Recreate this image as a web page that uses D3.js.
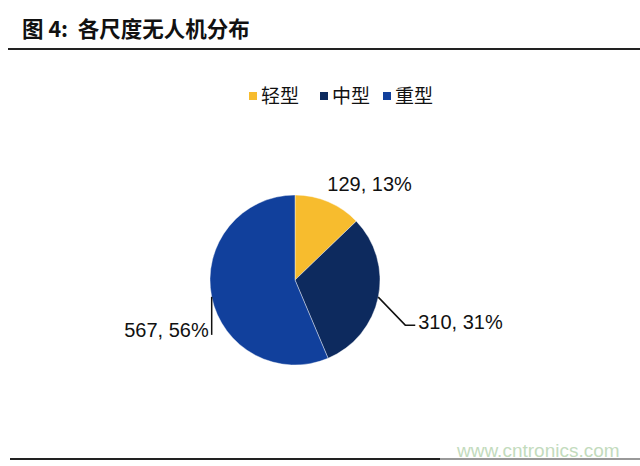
<!DOCTYPE html>
<html><head><meta charset="utf-8">
<script src="https://cdn.jsdelivr.net/npm/d3@7"></script>
<style>body{margin:0;background:#fff}svg{display:block}</style>
</head><body>
<script>
const categories = ["轻型", "中型", "重型"];
const values = [129, 310, 567];
const percents = ["13%", "31%", "56%"];
const colors = ["#F7BC2E", "#0D2A5E", "#11409C"];
const title = "图 4:  各尺度无人机分布";
const watermark = "www.cntronics.com";

const W = 640, H = 466;
const svg = d3.select("body").append("svg").attr("width", W).attr("height", H);

// title
svg.append("text").attr("x", 22).attr("y", 37)
  .attr("font-family", "'Noto Sans CJK SC', sans-serif").attr("font-weight", 700)
  .attr("font-size", 21.5).attr("fill", "#111").attr("xml:space", "preserve").text(title);
svg.append("line").attr("x1", 8).attr("x2", W).attr("y1", 49).attr("y2", 49)
  .attr("stroke", "#222").attr("stroke-width", 2);

// legend
const legX = [249, 320, 383];
const leg = svg.append("g");
categories.forEach((c, i) => {
  leg.append("rect").attr("x", legX[i]).attr("y", 92).attr("width", 8).attr("height", 8).attr("fill", colors[i]);
  leg.append("text").attr("x", legX[i] + 12).attr("y", 103)
    .attr("font-family", "'Noto Sans CJK SC', sans-serif").attr("font-size", 19).attr("fill", "#111").text(c);
});

// pie
const cx = 295, cy = 280, R = 85;
const pie = d3.pie().sort(null).value(d => d)(values);
const arc = d3.arc().innerRadius(0).outerRadius(R);
const g = svg.append("g").attr("transform", `translate(${cx},${cy})`);
g.selectAll("path").data(pie).join("path").attr("d", arc).attr("fill", (d, i) => colors[i])
  .attr("stroke", "#fff").attr("stroke-width", 0.4);

// labels
const font = "'Liberation Sans', Arial, sans-serif";
pie.forEach((d, i) => {
  const a = (d.startAngle + d.endAngle) / 2;
  const px = R * Math.sin(a), py = -R * Math.cos(a);
  const txt = `${values[i]}, ${percents[i]}`;
  const t = g.append("text").attr("font-family", font).attr("font-size", 20).attr("fill", "#111").text(txt);
  if (i === 0) {
    t.attr("x", px - 1).attr("y", py - 11).attr("text-anchor", "start");
  } else if (i === 1) {
    g.append("polyline").attr("points", `${px},${py} ${px + 27},${py + 28} ${px + 37},${py + 28}`)
      .attr("fill", "none").attr("stroke", "#111").attr("stroke-width", 1.5);
    t.attr("x", px + 40).attr("y", py + 32).attr("text-anchor", "start");
  } else {
    g.append("line").attr("x1", px).attr("y1", py).attr("x2", px).attr("y2", py + 38)
      .attr("stroke", "#111").attr("stroke-width", 1.5);
    t.attr("x", px - 3).attr("y", py + 40).attr("text-anchor", "end");
  }
});

// bottom line + watermark
svg.append("line").attr("x1", 10).attr("x2", 440).attr("y1", 459).attr("y2", 459).attr("stroke", "#222").attr("stroke-width", 2);
svg.append("line").attr("x1", 440).attr("x2", W).attr("y1", 459).attr("y2", 459).attr("stroke", "#999").attr("stroke-width", 2);
svg.append("text").attr("x", 457).attr("y", 457).attr("font-family", font).attr("font-size", 19)
  .attr("fill", "#c3dbbd").text(watermark);
</script>
</body></html>
